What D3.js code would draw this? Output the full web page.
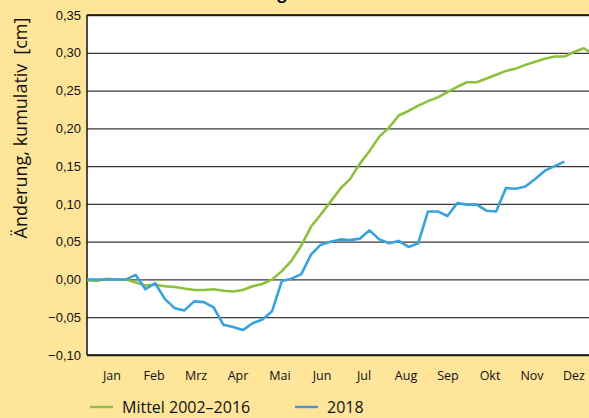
<!DOCTYPE html>
<html>
<head>
<meta charset="utf-8">
<script src="https://cdn.jsdelivr.net/npm/d3@7"></script>
<style>
  body { margin: 0; background: #fee59a; }
  svg { display: block; font-family: "Open Sans", sans-serif; }
</style>
</head>
<body>
<script>
const months = ['Jan', 'Feb', 'Mrz', 'Apr', 'Mai', 'Jun', 'Jul', 'Aug', 'Sep', 'Okt', 'Nov', 'Dez'];
const yTicks = [-0.10, -0.05, 0.00, 0.05, 0.10, 0.15, 0.20, 0.25, 0.30, 0.35];

// weekly values, cumulative change in cm
const mittel = [
  -0.001, -0.002, 0.001, 0.000, 0.000, -0.004, -0.008, -0.007, -0.009, -0.010,
  -0.012, -0.014, -0.014, -0.013, -0.015, -0.016, -0.014, -0.009, -0.006, 0.000,
  0.011, 0.025, 0.045, 0.070, 0.086, 0.103, 0.120, 0.133, 0.153, 0.170,
  0.189, 0.201, 0.217, 0.223, 0.230, 0.236, 0.241, 0.248, 0.255, 0.261,
  0.261, 0.266, 0.271, 0.276, 0.279, 0.284, 0.288, 0.292, 0.295, 0.295,
  0.301, 0.306, 0.298
];
const y2018 = [
  0.000, 0.000, 0.000, 0.000, 0.000, 0.006, -0.013, -0.005, -0.026, -0.038,
  -0.041, -0.029, -0.030, -0.037, -0.060, -0.063, -0.067, -0.058, -0.053, -0.042,
  -0.002, 0.001, 0.007, 0.033, 0.046, 0.050, 0.053, 0.052, 0.054, 0.065,
  0.053, 0.048, 0.051, 0.043, 0.048, 0.090, 0.090, 0.084, 0.101, 0.099,
  0.099, 0.091, 0.090, 0.121, 0.120, 0.123, 0.133, 0.144, 0.150, 0.156
];

const width = 589;
const height = 418;
const plot = { left: 87, top: 15, bottom: 355, right: 600 };

const svg = d3.select('body')
  .append('svg')
  .attr('width', width)
  .attr('height', height);

const x = d3.scaleLinear().domain([0, 365]).range([plot.left, 595]);
const xm = d3.scaleBand().domain(months).range([91, 595]);
const y = d3.scaleLinear().domain([-0.10, 0.35]).range([plot.bottom, plot.top]);

const de = d3.formatLocale({ decimal: ',', thousands: '.', grouping: [3], currency: ['', ' €'], minus: '\u2212' });
const fmt = de.format('.2f');

// cut-off title (only a descender is visible)
svg.append('text')
  .attr('x', 282)
  .attr('y', -1)
  .attr('text-anchor', 'middle')
  .attr('font-size', 16)
  .attr('font-weight', 'bold')
  .text('g');

svg.append('rect')
  .attr('x', plot.left)
  .attr('y', plot.top)
  .attr('width', plot.right - plot.left)
  .attr('height', plot.bottom - plot.top)
  .attr('fill', '#fff');

const yAxis = svg.append('g')
  .attr('transform', `translate(${plot.left},0)`)
  .call(d3.axisLeft(y).tickValues(yTicks).tickFormat(fmt).tickSize(-(plot.right - plot.left)).tickPadding(6));
yAxis.select('.domain').remove();
yAxis.selectAll('line')
  .attr('stroke', '#3a3a3a')
  .attr('stroke-width', 1.3);
yAxis.selectAll('text')
  .attr('font-size', 13)
  .attr('fill', '#111');

svg.append('line')
  .attr('x1', plot.left).attr('x2', plot.left)
  .attr('y1', plot.top).attr('y2', plot.bottom)
  .attr('stroke', '#111')
  .attr('stroke-width', 1.5);
svg.append('line')
  .attr('x1', plot.left).attr('x2', plot.right)
  .attr('y1', plot.top).attr('y2', plot.top)
  .attr('stroke', '#111')
  .attr('stroke-width', 1.5);
svg.append('line')
  .attr('x1', plot.left).attr('x2', plot.right)
  .attr('y1', plot.bottom).attr('y2', plot.bottom)
  .attr('stroke', '#111')
  .attr('stroke-width', 1.5);

svg.append('g')
  .selectAll('text')
  .data(months)
  .enter().append('text')
  .attr('x', d => xm(d) + xm.bandwidth() / 2)
  .attr('y', 380)
  .attr('text-anchor', 'middle')
  .attr('font-size', 12.5)
  .attr('fill', '#111')
  .text(d => d);

const line = d3.line()
  .x((d, i) => x(i * 7))
  .y(d => y(d));

svg.append('path')
  .datum(mittel)
  .attr('fill', 'none')
  .attr('stroke', '#8dc03c')
  .attr('stroke-width', 2.6)
  .attr('stroke-linejoin', 'round')
  .attr('d', line);

svg.append('path')
  .datum(y2018)
  .attr('fill', 'none')
  .attr('stroke', '#39a2dc')
  .attr('stroke-width', 2.6)
  .attr('stroke-linejoin', 'round')
  .attr('d', line);

svg.append('text')
  .attr('transform', 'translate(27,128) rotate(-90)')
  .attr('text-anchor', 'middle')
  .attr('font-size', 18)
  .attr('font-weight', 500)
  .attr('fill', '#111')
  .text('Änderung, kumulativ\u2002[cm]');

const legend = [
  { label: 'Mittel 2002–2016', color: '#90bf4e', x: 90 },
  { label: '2018', color: '#4f8fd3', x: 295 },
];
const lg = svg.append('g')
  .selectAll('g')
  .data(legend)
  .enter().append('g')
  .attr('transform', d => `translate(${d.x},407)`);
lg.append('line')
  .attr('x1', 0).attr('x2', 23)
  .attr('stroke', d => d.color)
  .attr('stroke-width', 2.4);
lg.append('text')
  .attr('x', 32)
  .attr('y', 6)
  .attr('font-size', 16)
  .attr('fill', '#111')
  .text(d => d.label);
</script>
</body>
</html>
